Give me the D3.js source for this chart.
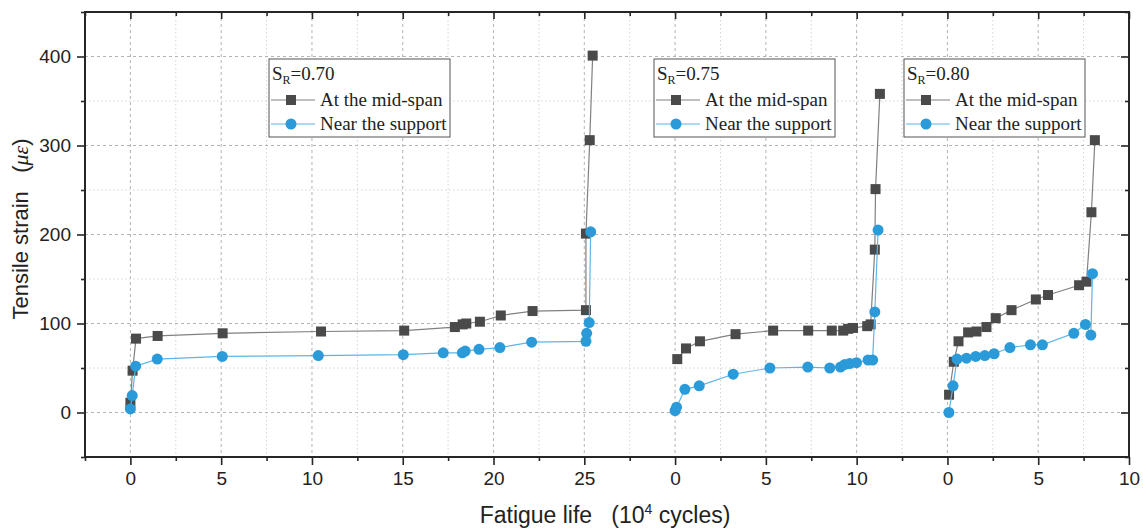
<!DOCTYPE html>
<html>
<head>
<meta charset="utf-8">
<script src="https://cdn.jsdelivr.net/npm/d3@7"></script>
<style>
  html, body { margin: 0; padding: 0; background: #fff; }
  svg { display: block; }
</style>
</head>
<body>
<svg id="chart" width="1143" height="530"></svg>
<script>
// ---------- data ----------
const stressRatios = ["0.70", "0.75", "0.80"];
const segmentOffsets = [0, 30, 45];           // where each test's "0" sits on the broken x axis
const seriesNames = ["At the mid-span", "Near the support"];

const midX_070 = [0, 0.12, 0.31, 1.5, 5.08, 10.5, 15.08, 17.87, 18.3, 18.5, 19.25, 20.4, 22.15, 25.09, 25.09, 25.3, 25.46];
const midY_070 = [11, 47, 83, 86, 89, 91, 92, 96, 99, 100, 102, 109, 114, 115, 201, 306, 401];
const supX_070 = [0, 0.1, 0.29, 1.48, 5.06, 10.35, 15.03, 17.23, 18.28, 18.44, 19.2, 20.35, 22.1, 25.09, 25.13, 25.27, 25.35];
const supY_070 = [4, 19, 52, 60, 63, 64, 65, 67, 67, 69, 71, 73, 79, 80, 89, 101, 203];

const midX_075 = [0.12, 0.6, 1.37, 3.33, 5.4, 7.33, 8.63, 9.26, 9.53, 9.8, 10.58, 10.77, 11.0, 11.04, 11.28];
const midY_075 = [60, 72, 80, 88, 92, 92, 92, 92, 94, 95, 97, 99, 183, 251, 358];
const supX_075 = [0, 0.08, 0.54, 1.33, 3.2, 5.22, 7.31, 8.52, 9.11, 9.35, 9.62, 9.99, 10.63, 10.88, 11.0, 11.18];
const supY_075 = [2, 6, 26, 30, 43, 50, 51, 50, 51, 54, 55, 56, 59, 59, 113, 205];

const midX_080 = [0.09, 0.35, 0.61, 1.14, 1.6, 2.15, 2.66, 3.53, 4.87, 5.54, 7.25, 7.66, 7.93, 8.12];
const midY_080 = [20, 57, 80, 90, 91, 96, 106, 115, 127, 132, 143, 147, 225, 306];
const supX_080 = [0.08, 0.31, 0.53, 1.05, 1.56, 2.06, 2.57, 3.44, 4.57, 5.23, 6.96, 7.6, 7.9, 7.99];
const supY_080 = [0, 30, 60, 61, 63, 64, 66, 73, 76, 76, 89, 99, 87, 156];

const yTicksMajor = [0, 100, 200, 300, 400];
const xDomain = [-2.5, 55];
const yDomain = [-50, 450];

// ---------- layout ----------
const L = 85, R = 1129, T = 12, B = 457;
const svg = d3.select("#chart");
const x = d3.scaleLinear().domain(xDomain).range([L, R]);
const y = d3.scaleLinear().domain(yDomain).range([B, T]);

const midColor = "#4a4a4a", midLine = "#808080";
const supColor = "#2a9ad9", supLine = "#5cb5e8";
const axisColor = "#262626";

// tick values
const xAll = d3.range(xDomain[0], xDomain[1] + 0.001, 2.5);
const xMajor = xAll.filter(v => v >= 0 && Math.abs(v / 5 - Math.round(v / 5)) < 1e-6);
const xMinor = xAll.filter(v => !xMajor.includes(v));
const yAll = d3.range(yDomain[0], yDomain[1] + 0.001, 50);
const yMinor = yAll.filter(v => !yTicksMajor.includes(v));

function segLabel(v) {
  let off = 0;
  segmentOffsets.forEach(o => { if (v >= o - 1e-6) off = o; });
  return String(Math.round(v - off));
}

// ---------- grid ----------
const grid = svg.append("g");
grid.selectAll(".gxm").data(xMinor.filter(v => v > xDomain[0])).join("line")
  .attr("x1", d => x(d)).attr("x2", d => x(d)).attr("y1", T).attr("y2", B)
  .attr("stroke", "#d4d4d4").attr("stroke-width", 1).attr("stroke-dasharray", "1.5,2.5");
grid.selectAll(".gxM").data(xMajor.filter(v => v < xDomain[1])).join("line")
  .attr("x1", d => x(d)).attr("x2", d => x(d)).attr("y1", T).attr("y2", B)
  .attr("stroke", "#b4b4b4").attr("stroke-width", 1).attr("stroke-dasharray", "3,3");
grid.selectAll(".gym").data(yMinor.filter(v => v > yDomain[0] && v < yDomain[1])).join("line")
  .attr("x1", L).attr("x2", R).attr("y1", d => y(d)).attr("y2", d => y(d))
  .attr("stroke", "#d4d4d4").attr("stroke-width", 1).attr("stroke-dasharray", "1.5,2.5");
grid.selectAll(".gyM").data(yTicksMajor).join("line")
  .attr("x1", L).attr("x2", R).attr("y1", d => y(d)).attr("y2", d => y(d))
  .attr("stroke", "#b4b4b4").attr("stroke-width", 1).attr("stroke-dasharray", "3,3");

// ---------- axes ----------
function styleAxis(g) {
  g.select(".domain").remove();
  g.selectAll(".tick line").attr("stroke", axisColor).attr("stroke-width", 1.6);
  g.selectAll(".tick text").attr("fill", "#222").attr("font-family", "Liberation Sans, Arial, sans-serif").attr("font-size", 19);
}
svg.append("g").attr("transform", `translate(0,${B})`)
  .call(d3.axisBottom(x).tickValues(xMajor).tickSize(8).tickPadding(7).tickFormat(segLabel)).call(styleAxis);
svg.append("g").attr("transform", `translate(0,${B})`)
  .call(d3.axisBottom(x).tickValues(xMinor).tickSize(4).tickFormat("")).call(styleAxis);
svg.append("g").attr("transform", `translate(0,${T})`)
  .call(d3.axisTop(x).tickValues(xMajor).tickSize(-7).tickFormat("")).call(styleAxis);
svg.append("g").attr("transform", `translate(0,${T})`)
  .call(d3.axisTop(x).tickValues(xMinor).tickSize(-4).tickFormat("")).call(styleAxis);
svg.append("g").attr("transform", `translate(${L},0)`)
  .call(d3.axisLeft(y).tickValues(yTicksMajor).tickSize(8).tickPadding(6)).call(styleAxis);
svg.append("g").attr("transform", `translate(${L},0)`)
  .call(d3.axisLeft(y).tickValues(yMinor).tickSize(4).tickFormat("")).call(styleAxis);
svg.append("g").attr("transform", `translate(${R},0)`)
  .call(d3.axisRight(y).tickValues(yTicksMajor).tickSize(-8).tickFormat("")).call(styleAxis);
svg.append("g").attr("transform", `translate(${R},0)`)
  .call(d3.axisRight(y).tickValues(yMinor).tickSize(-4).tickFormat("")).call(styleAxis);

// frame
svg.append("rect").attr("x", L).attr("y", T).attr("width", R - L).attr("height", B - T)
  .attr("fill", "none").attr("stroke", axisColor).attr("stroke-width", 2);

// ---------- series ----------
const segments = [
  { sr: stressRatios[0], off: segmentOffsets[0], mid: d3.zip(midX_070, midY_070), sup: d3.zip(supX_070, supY_070) },
  { sr: stressRatios[1], off: segmentOffsets[1], mid: d3.zip(midX_075, midY_075), sup: d3.zip(supX_075, supY_075) },
  { sr: stressRatios[2], off: segmentOffsets[2], mid: d3.zip(midX_080, midY_080), sup: d3.zip(supX_080, supY_080) }
];

const sq = 10, cr = 5.5;
segments.forEach(seg => {
  const line = d3.line().x(d => x(d[0] + seg.off)).y(d => y(d[1]));
  const g = svg.append("g");
  g.append("path").datum(seg.mid).attr("d", line).attr("fill", "none").attr("stroke", midLine).attr("stroke-width", 1.2);
  g.selectAll(".sq").data(seg.mid).join("rect")
    .attr("x", d => x(d[0] + seg.off) - sq / 2).attr("y", d => y(d[1]) - sq / 2)
    .attr("width", sq).attr("height", sq).attr("fill", midColor);
  g.append("path").datum(seg.sup).attr("d", line).attr("fill", "none").attr("stroke", supLine).attr("stroke-width", 1.2);
  g.selectAll(".ci").data(seg.sup).join("circle")
    .attr("cx", d => x(d[0] + seg.off)).attr("cy", d => y(d[1])).attr("r", cr).attr("fill", supColor);
});

// ---------- legends ----------
const legendLeft = [269, 654, 904];
const legendTop = 59, legendW = 181, legendH = 78;
const serif = "Liberation Serif, Times New Roman, serif";
segments.forEach((seg, i) => {
  const g = svg.append("g").attr("transform", `translate(${legendLeft[i]},${legendTop})`);
  g.append("rect").attr("width", legendW).attr("height", legendH)
    .attr("fill", "#fff").attr("stroke", "#555").attr("stroke-width", 1);
  const t = g.append("text").attr("x", 3).attr("y", 21).attr("font-family", serif).attr("font-size", 19).attr("fill", "#222");
  t.append("tspan").text("S");
  t.append("tspan").attr("font-size", 12).attr("dy", 4).text("R");
  t.append("tspan").attr("dy", -4).text("=" + seg.sr);
  [0, 1].forEach(k => {
    const yy = 41 + k * 24;
    g.append("line").attr("x1", 2).attr("x2", 46).attr("y1", yy).attr("y2", yy)
      .attr("stroke", k === 0 ? midLine : supLine).attr("stroke-width", 1.2);
    if (k === 0) {
      g.append("rect").attr("x", 22 - sq / 2).attr("y", yy - sq / 2).attr("width", sq).attr("height", sq).attr("fill", midColor);
    } else {
      g.append("circle").attr("cx", 22).attr("cy", yy).attr("r", cr).attr("fill", supColor);
    }
    g.append("text").attr("x", 51).attr("y", yy + 6).attr("font-family", serif).attr("font-size", 19)
      .attr("fill", "#222").text(seriesNames[k]);
  });
});

// ---------- axis titles ----------
const xt = svg.append("text").attr("x", 605).attr("y", 523).attr("text-anchor", "middle")
  .attr("font-family", "Liberation Sans, Arial, sans-serif").attr("font-size", 23).attr("fill", "#222")
  .attr("xml:space", "preserve");
xt.append("tspan").text("Fatigue life   (10");
xt.append("tspan").attr("font-size", 14).attr("dy", -9).text("4");
xt.append("tspan").attr("dy", 9).text(" cycles)");

const yt = svg.append("text").attr("transform", "translate(28,229) rotate(-90)").attr("text-anchor", "middle")
  .attr("font-family", "Liberation Sans, Arial, sans-serif").attr("font-size", 22).attr("fill", "#222")
  .attr("xml:space", "preserve");
yt.append("tspan").text("Tensile strain   (");
yt.append("tspan").attr("font-family", serif).attr("font-style", "italic").text("με");
yt.append("tspan").text(")");
</script>
</body>
</html>
